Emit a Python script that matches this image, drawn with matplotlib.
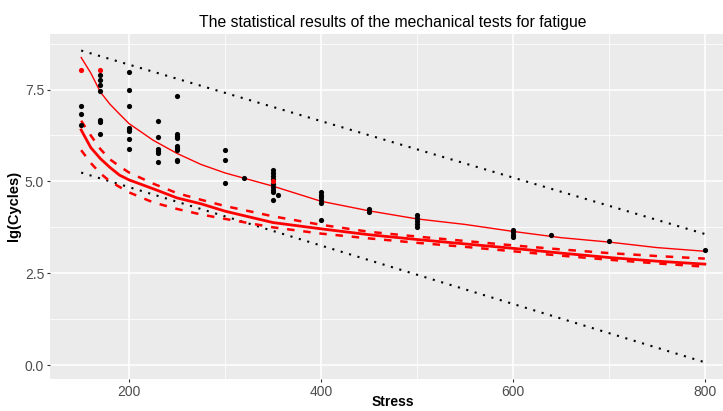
import matplotlib
matplotlib.use("Agg")
import matplotlib.pyplot as plt

# ---- data ----
stress_black = [150, 150, 150,
                170, 170, 170, 170, 170, 170, 170,
                200, 200, 200, 200, 200, 200, 200, 200,
                230, 230, 230, 230, 230, 230,
                250, 250, 250, 250, 250, 250, 250, 250, 250,
                300, 300, 300,
                320,
                350, 350, 350, 350, 350, 350, 350, 350, 350,
                355,
                400, 400, 400, 400, 400, 400,
                450, 450,
                500, 500, 500, 500, 500,
                600, 600, 600, 600,
                640, 700, 800]
cycles_black = [7.05, 6.84, 6.54,
                7.89, 7.77, 7.62, 7.47, 6.66, 6.62, 6.28,
                7.97, 7.50, 7.06, 6.46, 6.42, 6.37, 6.15, 5.87,
                6.65, 6.20, 5.88, 5.83, 5.77, 5.53,
                7.32, 6.29, 6.24, 6.18, 5.95, 5.90, 5.86, 5.58, 5.56,
                5.85, 5.58, 4.97,
                5.09,
                5.30, 5.23, 5.15, 5.06, 4.93, 4.84, 4.76, 4.70, 4.50,
                4.64,
                4.70, 4.64, 4.57, 4.50, 4.42, 3.95,
                4.26, 4.16,
                4.08, 4.00, 3.92, 3.84, 3.75,
                3.69, 3.62, 3.55, 3.48,
                3.55, 3.37, 3.14]

stress_red = [150, 170, 350]
cycles_red = [8.02, 8.02, 5.00]

curve_stress = [150, 160, 170, 180, 190, 200, 225, 250, 275, 300, 350,
                400, 450, 500, 550, 600, 650, 700, 750, 800]
upper_fit = [8.37, 7.95, 7.43, 7.10, 6.83, 6.57, 6.12, 5.76, 5.46, 5.23, 4.87,
             4.46, 4.20, 3.98, 3.83, 3.64, 3.47, 3.35, 3.20, 3.10]
lower_fit = [6.40, 5.92, 5.62, 5.38, 5.17, 5.04, 4.80, 4.55, 4.39, 4.19, 3.88,
             3.71, 3.55, 3.42, 3.30, 3.18, 3.05, 2.93, 2.83, 2.75]
lower_fit_hi = [6.65, 6.25, 5.88, 5.60, 5.41, 5.24, 4.94, 4.68, 4.50, 4.33, 4.05,
                3.82, 3.63, 3.50, 3.38, 3.26, 3.15, 3.05, 2.97, 2.90]
lower_fit_lo = [5.85, 5.50, 5.22, 5.00, 4.85, 4.70, 4.43, 4.25, 4.10, 3.98, 3.75,
                3.58, 3.45, 3.33, 3.22, 3.10, 2.98, 2.87, 2.77, 2.68]

band_stress = [150, 800]
band_upper = [8.56, 3.57]
band_lower = [5.24, 0.08]

x_ticks = [200, 400, 600, 800]
y_ticks = [0.0, 2.5, 5.0, 7.5]
y_ticklabels = ["0.0", "2.5", "5.0", "7.5"]

title = "The statistical results of the mechanical tests for fatigue"
xlabel = "Stress"
ylabel = "lg(Cycles)"

# ---- figure ----
plt.rcParams['font.family'] = ['Liberation Sans', 'DejaVu Sans']
W, H = 723, 411
fig = plt.figure(figsize=(W / 100, H / 100), dpi=100)
left_px, right_px, top_px, bottom_px = 50, 736, 34, 379
ax = fig.add_axes([left_px / W, 1 - bottom_px / H,
                   (right_px - left_px) / W, (bottom_px - top_px) / H])
ax.set_facecolor('#EBEBEB')
for s in ax.spines.values():
    s.set_visible(False)
ax.set_xlim(117.5, 832.5)
ax.set_ylim(-0.375, 9.01)

ax.set_xticks(x_ticks)
ax.set_xticks([300, 500, 700], minor=True)
ax.set_yticks(y_ticks)
ax.set_yticklabels(y_ticklabels)
ax.set_yticks([1.25, 3.75, 6.25, 8.75], minor=True)
ax.grid(which='major', color='white', linewidth=1.1)
ax.grid(which='minor', color='white', linewidth=0.55)
ax.set_axisbelow(True)
ax.tick_params(which='major', length=2.2, width=0.8, color='#333333',
               labelcolor='#4D4D4D', labelsize=10, pad=2)
ax.tick_params(which='minor', length=0)

dot_kw = dict(color='black', linewidth=1.5, linestyle=(0, (1, 3.2)),
              dash_capstyle='butt')
ax.plot(band_stress, band_upper, **dot_kw)
ax.plot(band_stress, band_lower, **dot_kw)

ax.plot(curve_stress, upper_fit, color='red', linewidth=1.0)
ax.plot(curve_stress, lower_fit, color='red', linewidth=2.0)
dash_kw = dict(color='red', linewidth=1.8, linestyle=(0, (3, 3.5)),
               dash_capstyle='butt')
ax.plot(curve_stress, lower_fit_hi, **dash_kw)
ax.plot(curve_stress, lower_fit_lo, **dash_kw)

ax.scatter(stress_black, cycles_black, s=14, color='black', zorder=3,
           linewidths=0)
ax.scatter(stress_red, cycles_red, s=14, color='red', zorder=3, linewidths=0)

fig.text(393 / W, 1 - 23 / H, title, ha='center', va='center',
         fontsize=11.3, color='black')
fig.text(393 / W, 1 - 402 / H, xlabel, ha='center', va='center',
         fontsize=10, fontweight='bold')
fig.text(14 / W, 1 - 206 / H, ylabel, ha='center', va='center',
         fontsize=10.5, fontweight='bold', rotation=90)

fig.savefig('out.png', dpi=100)
